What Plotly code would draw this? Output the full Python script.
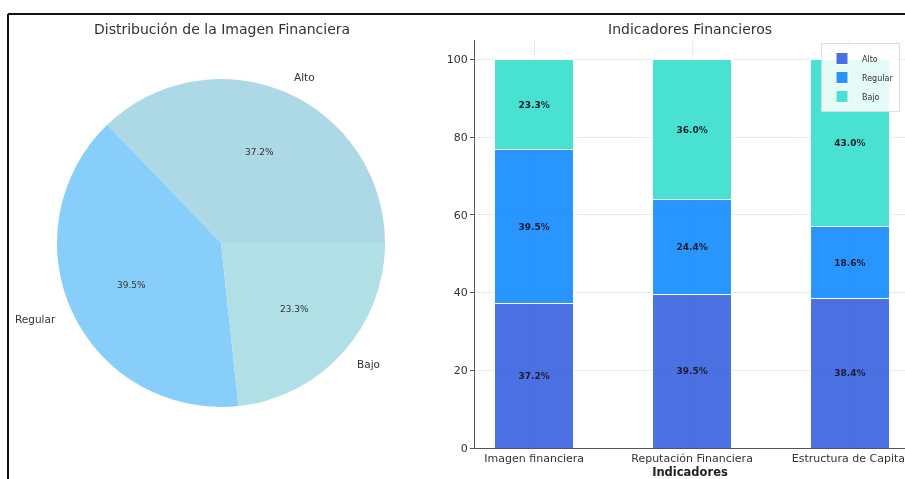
import math
import plotly.graph_objects as go

# Pie: distribution of financial image levels
pie_labels = ["Alto", "Regular", "Bajo"]
pie_values = [37.2, 39.5, 23.3]
pie_colors = ["#ADD8E6", "#87CEFA", "#B0E0E6"]

# Stacked bars: financial indicators
indicators = ["Imagen financiera", "Reputación Financiera", "Estructura de Capital"]
alto = [37.2, 39.5, 38.4]
regular = [39.5, 24.4, 18.6]
bajo = [23.3, 36.0, 43.0]
bar_colors = {"Alto": "#4169E1", "Regular": "#1E90FF", "Bajo": "#40E0D0"}
y_ticks = [0, 20, 40, 60, 80, 100]

W, H = 905, 479
FONT = "DejaVu Sans"

fig = go.Figure()

# pie domain (paper coords, margins are zero so paper == whole page)
pie_dom_x = [57 / W, 385 / W]
pie_dom_y = [72 / H, 400 / H]
total = sum(pie_values)

# first slice starts at 3 o'clock and runs counterclockwise
# (plotly places the first ccw slice so that its far edge sits at `rotation`)
rotation = 90 - 360.0 * pie_values[0] / total

fig.add_trace(go.Pie(
    labels=pie_labels, values=pie_values, sort=False,
    direction="counterclockwise", rotation=rotation,
    marker=dict(colors=pie_colors, line=dict(width=0)),
    textinfo="none", hoverinfo="label+percent", showlegend=False,
    domain=dict(x=pie_dom_x, y=pie_dom_y),
))

# pie labels placed at angles derived from the values
cx = (pie_dom_x[0] + pie_dom_x[1]) / 2 * W
cy = (pie_dom_y[0] + pie_dom_y[1]) / 2 * H
r = (pie_dom_x[1] - pie_dom_x[0]) * W / 2
annotations = []
start = 0.0
for lab, val in zip(pie_labels, pie_values):
    span = 360.0 * val / total
    mid = math.radians(start + span / 2)
    start += span
    lx, ly = math.cos(mid), math.sin(mid)
    annotations.append(dict(
        x=(cx + 1.1 * r * lx) / W, y=(cy + 1.1 * r * ly) / H,
        xref="paper", yref="paper", text=lab, showarrow=False,
        xanchor="left" if lx > 0 else "right", yanchor="middle",
        font=dict(family=FONT, size=10.5, color="#333333"),
    ))
    annotations.append(dict(
        x=(cx + 0.6 * r * lx) / W, y=(cy + 0.6 * r * ly) / H,
        xref="paper", yref="paper", text=f"{val:.1f}%", showarrow=False,
        xanchor="center", yanchor="middle",
        font=dict(family=FONT, size=9, color="#333333"),
    ))

# stacked bars
for name, vals in [("Alto", alto), ("Regular", regular), ("Bajo", bajo)]:
    fig.add_trace(go.Bar(
        x=indicators, y=vals, name=name, width=0.5,
        marker=dict(color=bar_colors[name], line=dict(color="white", width=1)),
        opacity=0.95,
        text=[f"{v:.1f}%" for v in vals], textposition="inside",
        insidetextanchor="middle", textangle=0,
        textfont=dict(family=FONT, size=9, color="#111122", weight="bold"),
        xaxis="x", yaxis="y",
    ))

fig.update_layout(
    width=W, height=H,
    margin=dict(l=0, r=0, t=0, b=0, autoexpand=False),
    paper_bgcolor="white", plot_bgcolor="white",
    barmode="stack", bargap=0.5,
    font=dict(family=FONT, color="#333333"),
    xaxis=dict(
        domain=[475 / W, 1.0], range=[-0.375, 2.349], automargin=False,
        showgrid=True, gridcolor="#ebebeb", gridwidth=0.8,
        showline=True, linecolor="#555555", linewidth=1,
        ticks="", tickfont=dict(size=11, color="#333333"),
        title=dict(text="<b>Indicadores</b>", font=dict(size=11.5, color="#222222"), standoff=2),
        anchor="y",
    ),
    yaxis=dict(
        domain=[(H - 448) / H, (H - 40) / H], range=[0, 105], automargin=False,
        tickvals=y_ticks, showgrid=True, gridcolor="#ebebeb", gridwidth=0.8,
        showline=True, linecolor="#555555", linewidth=1, zeroline=False,
        ticks="outside", ticklen=4, tickcolor="#555555",
        tickfont=dict(size=11, color="#333333"),
        anchor="x",
    ),
    legend=dict(
        x=900 / W, y=(H - 43) / H, xanchor="right", yanchor="top",
        traceorder="normal",
        bgcolor="rgba(255,255,255,0.85)", bordercolor="#dddddd", borderwidth=1,
        font=dict(size=8, color="#333333"), tracegroupgap=0,
        itemwidth=30,
    ),
    annotations=annotations + [
        dict(x=222 / W, y=(H - 29) / H, xref="paper", yref="paper",
             text="Distribución de la Imagen Financiera", showarrow=False,
             xanchor="center", yanchor="middle",
             font=dict(family=FONT, size=14, color="#333333")),
        dict(x=690 / W, y=(H - 29) / H, xref="paper", yref="paper",
             text="Indicadores Financieros", showarrow=False,
             xanchor="center", yanchor="middle",
             font=dict(family=FONT, size=14, color="#333333")),
    ],
    shapes=[
        dict(type="line", xref="paper", yref="paper", x0=8 / W, x1=1.0,
             y0=(H - 14) / H, y1=(H - 14) / H, line=dict(color="#111111", width=2)),
        dict(type="line", xref="paper", yref="paper", x0=8 / W, x1=8 / W,
             y0=0, y1=(H - 14) / H, line=dict(color="#111111", width=2)),
    ],
)

fig.write_html("out.html")
